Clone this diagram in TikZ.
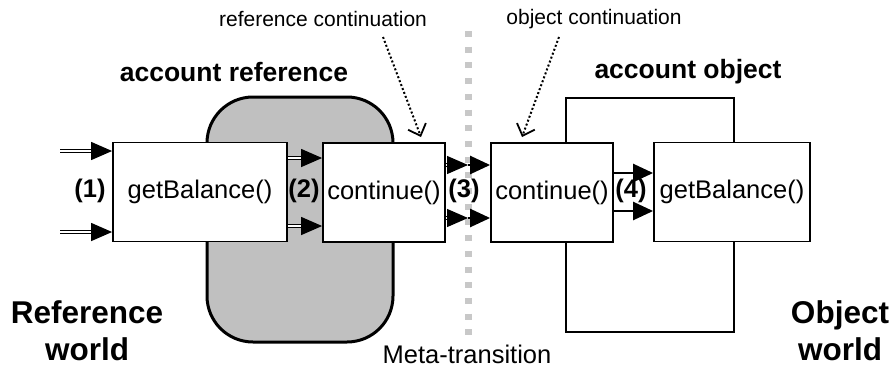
\documentclass[tikz,border=0pt]{standalone}
\usepackage{fontspec}
\setmainfont{Liberation Sans}
\usetikzlibrary{arrows.meta,calc}

\definecolor{shade}{RGB}{192,192,192}
\definecolor{metagray}{RGB}{200,200,200}

\begin{document}
\begin{tikzpicture}[x=1pt,y=-1pt,
  methodbox/.style={draw, line width=1.8pt, fill=white, inner sep=0pt,
    minimum height=99pt, font=\fontsize{25.5}{30}\selectfont},
  container/.style={draw, inner sep=0pt},
  numlabel/.style={font=\bfseries\fontsize{25.5}{30}\selectfont, anchor=base, inner sep=0pt},
  title/.style={font=\bfseries\fontsize{26.5}{30}\selectfont, inner sep=0pt},
  note/.style={font=\fontsize{21}{25}\selectfont, inner sep=0pt},
  world/.style={font=\bfseries\fontsize{31.5}{37}\selectfont, align=center, inner sep=0pt},
  dblarrow/.style={double, double distance=2pt, line width=1.3pt,
    -{Triangle[length=21pt,width=18pt]}},
  sglarrow/.style={line width=2.4pt, -{Triangle[length=20pt,width=18pt]}},
  pointer/.style={line width=2pt, dash pattern=on 2pt off 2.2pt,
    -{Straight Barb[length=10pt,width=19pt,line width=1.8pt]}},
]
\useasboundingbox (0,0) rectangle (894,367);

% containers behind the method boxes
\node[container, line width=3pt, fill=shade, rounded corners=46pt,
  minimum width=186pt, minimum height=245pt] (refshape) at (300,219.5) {};
\node[container, line width=1.8pt, minimum width=168pt, minimum height=234pt]
  (objshape) at (650,215) {};

% meta-level boundary
\coordinate (metatop) at (468,31);
\coordinate (metabot) at (468,341);
\draw[metagray, line width=7pt, dash pattern=on 6pt off 9.7pt] (metatop) -- (metabot);

% method boxes
\node[methodbox, minimum width=174pt] (gb1) at (200,192) {getBalance()};
\node[methodbox, minimum width=122pt] (cr)  at (384,192.5) {continue()};
\node[methodbox, minimum width=122pt] (co)  at (552,192.5) {continue()};
\node[methodbox, minimum width=156pt] (gb2) at (732,192) {getBalance()};

% incoming calls
\coordinate (in1) at (60,151);
\coordinate (in2) at (60,232);
\draw[dblarrow] (in1) -- (in1 -| gb1.west);
\draw[dblarrow] (in2) -- (in2 -| gb1.west);

% (2) reference to its continuation
\draw[dblarrow] (gb1.east |- 0,158) -- (cr.west |- 0,158);
\draw[dblarrow] (gb1.east |- 0,226) -- (cr.west |- 0,226);

% (3) across the meta-transition
\coordinate (m3a) at (468,165);
\coordinate (m3b) at (468,218);
\draw[dblarrow] (cr.east |- m3a) -- (m3a);
\draw[sglarrow] (m3a) -- (co.west |- m3a);
\draw[dblarrow] (cr.east |- m3b) -- (m3b);
\draw[sglarrow] (m3b) -- (co.west |- m3b);

% (4) object continuation to the object
\draw[sglarrow] (co.east |- 0,173) -- (gb2.west |- 0,173);
\draw[sglarrow] (co.east |- 0,211) -- (gb2.west |- 0,211);

% step numbers
\node[numlabel] (n1) at (90,197) {(1)};
\node[numlabel] (n2) at (304,197) {(2)};
\node[numlabel] (n3) at (464,197) {(3)};
\node[numlabel] (n4) at (631,197) {(4)};

% titles
\node[title] (acctref) at (234,72) {account reference};
\node[title] (acctobj) at (688,72) {account object};

% annotations
\node[note] (refcont) at (323,19) {reference continuation};
\node[note] (objcont) at (594,19) {object continuation};
\coordinate (refend) at (421,137);
\coordinate (objend) at (522,137);
\draw[pointer] (383,37) -- (refend);
\draw[pointer] (559,37) -- (objend);

% world labels
\node[world] (refworld) at (87,331) {Reference\\world};
\node[world] (objworld) at (840,331) {Object\\world};

\node[font=\fontsize{25.5}{30}\selectfont, anchor=base, inner sep=0pt] (meta) at (467,363) {Meta-transition};
\end{tikzpicture}
\end{document}
